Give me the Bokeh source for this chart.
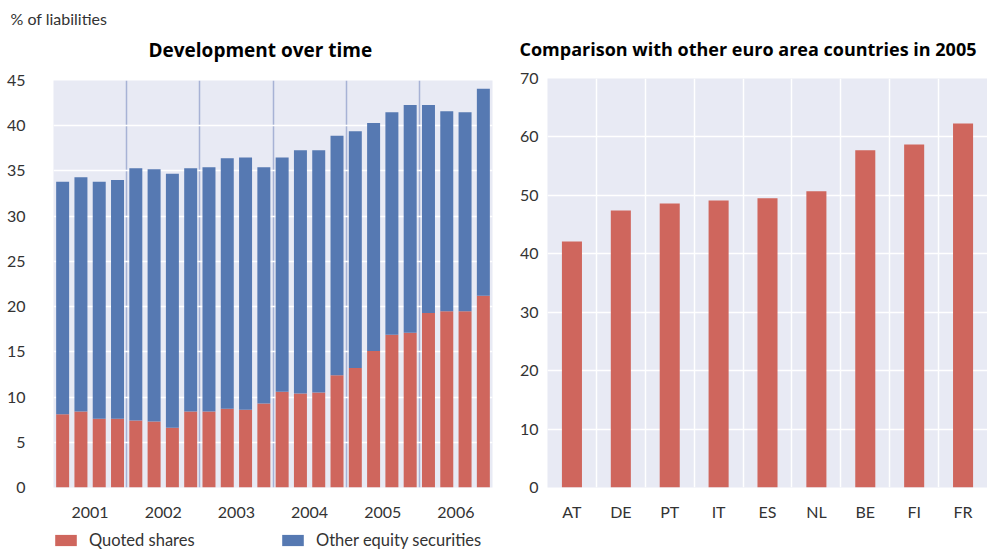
from bokeh.plotting import figure
from bokeh.models import Title, Legend, LegendItem, FixedTicker, Range1d, ColumnDataSource
from bokeh.layouts import row, column
from bokeh.embed import file_html
from bokeh.resources import INLINE

# ---- data ----
years = ["2001", "2002", "2003", "2004", "2005", "2006"]
quarters = list(range(24))
quoted_shares = [8.1, 8.4, 7.6, 7.6, 7.4, 7.3, 6.6, 8.4, 8.4, 8.7, 8.6, 9.3,
                 10.6, 10.4, 10.5, 12.4, 13.2, 15.1, 16.9, 17.1, 19.3, 19.5, 19.5, 21.2]
other_equity = [25.7, 25.9, 26.2, 26.4, 27.9, 27.9, 28.1, 26.9, 27.0, 27.7, 27.9, 26.1,
                25.9, 26.9, 26.8, 26.5, 26.2, 25.2, 24.6, 25.2, 23.0, 22.1, 22.0, 22.9]
countries = ["AT", "DE", "PT", "IT", "ES", "NL", "BE", "FI", "FR"]
country_values = [42.1, 47.4, 48.6, 49.1, 49.5, 50.7, 57.7, 58.7, 62.3]
legend_labels = ["Quoted shares", "Other equity securities"]

RED = "#cf665d"
BLUE = "#5679b2"
BG = "#e8eaf4"
FONT = "Lato"
TFONT = "Open Sans"
TXT = "#333333"

def style(p):
    p.background_fill_color = BG
    p.border_fill_color = "white"
    p.outline_line_color = None
    for ax in (p.xaxis, p.yaxis):
        ax.axis_line_color = None
        ax.major_tick_line_color = None
        ax.minor_tick_line_color = None
        ax.major_label_text_font = FONT
        ax.major_label_text_font_size = "16px"
        ax.major_label_text_color = TXT
    p.ygrid.grid_line_color = "white"
    p.ygrid.grid_line_width = 1.5

# ---- left panel ----
src = ColumnDataSource(dict(q=quarters, quoted=quoted_shares, other=other_equity))
p1 = figure(width=500, height=530, output_backend="svg", toolbar_location=None,
            x_range=Range1d(-0.5, len(quarters) - 0.5), y_range=Range1d(0, 45),
            min_border_left=53, min_border_right=8, min_border_top=80, min_border_bottom=43)
rs = p1.vbar_stack(["quoted", "other"], x="q", width=0.71, source=src,
                   color=[RED, BLUE], line_color=None)
style(p1)
p1.yaxis.ticker = FixedTicker(ticks=list(range(0, 46, 5)))
p1.yaxis.major_label_standoff = 22
year_pos = [4 * i + 1.5 for i in range(len(years))]
p1.xaxis.ticker = FixedTicker(ticks=year_pos)
p1.xaxis.major_label_overrides = {pos: y for pos, y in zip(year_pos, years)}
p1.xaxis.major_label_standoff = 13
p1.xgrid.ticker = FixedTicker(ticks=[4 * i + 3.5 for i in range(len(years) - 1)])
p1.xgrid.grid_line_color = "#a7b2d5"
p1.xgrid.grid_line_width = 1.5

p1.add_layout(Title(text="Development over time", align="left", offset=95,
                    text_font=TFONT, text_font_style="bold", text_font_size="19px",
                    text_color="black", standoff=35), "above")
p1.add_layout(Title(text="% of liabilities", align="left", offset=-43,
                    text_font=FONT, text_font_style="normal", text_font_size="16px",
                    text_color=TXT, standoff=-21), "above")

# ---- legend strip under the left panel ----
p_leg = figure(width=500, height=19, output_backend="svg", toolbar_location=None,
               x_range=Range1d(0, 1), y_range=Range1d(0, 1),
               x_axis_location=None, y_axis_location=None, min_border=0)
p_leg.outline_line_color = None
p_leg.grid.visible = False
p_leg.background_fill_color = "white"
p_leg.border_fill_color = "white"
# swatch renderers for the legend (zero-height, nothing visible in the strip)
leg_src = ColumnDataSource(dict(x=[0.5], top=[0], bottom=[0]))
leg_q = p_leg.vbar(x="x", top="top", bottom="bottom", width=0.1, source=leg_src,
                   color=RED, line_color=None)
leg_o = p_leg.vbar(x="x", top="top", bottom="bottom", width=0.1, source=leg_src,
                   color=BLUE, line_color=None)
legend = Legend(items=[LegendItem(label=legend_labels[0], renderers=[leg_q]),
                       LegendItem(label=legend_labels[1], renderers=[leg_o])],
                orientation="horizontal", location=(-1, -1),
                glyph_width=27, glyph_height=14, label_standoff=10, label_width=190,
                spacing=0, padding=0, margin=0, border_line_color=None,
                background_fill_alpha=0, label_text_font=FONT,
                label_text_font_size="16.5px", label_text_color=TXT)
p_leg.add_layout(legend, "center")

# ---- right panel ----
xs = list(range(len(countries)))
src2 = ColumnDataSource(dict(x=xs, v=country_values))
p2 = figure(width=487, height=549, output_backend="svg", toolbar_location=None,
            x_range=Range1d(-0.5, len(countries) - 0.5), y_range=Range1d(0, 70),
            min_border_left=47, min_border_right=0, min_border_top=78, min_border_bottom=62)
p2.vbar(x="x", top="v", width=0.41, source=src2, color=RED, line_color=None)
style(p2)
p2.yaxis.ticker = FixedTicker(ticks=list(range(0, 71, 10)))
p2.yaxis.major_label_standoff = 3
p2.xaxis.ticker = FixedTicker(ticks=xs)
p2.xaxis.major_label_overrides = {i: c for i, c in zip(xs, countries)}
p2.xaxis.major_label_standoff = 8
p2.xgrid.ticker = FixedTicker(ticks=[i + 0.5 for i in xs[:-1]])
p2.xgrid.grid_line_color = "white"
p2.xgrid.grid_line_width = 1.5
p2.add_layout(Title(text="Comparison with other euro area countries in 2005", align="left",
                    offset=-28, text_font=TFONT, text_font_style="bold", text_font_size="18px",
                    text_color="black", standoff=36), "above")

layout = row(column(p1, p_leg), p2)
open("out.html", "w").write(file_html(layout, INLINE))
